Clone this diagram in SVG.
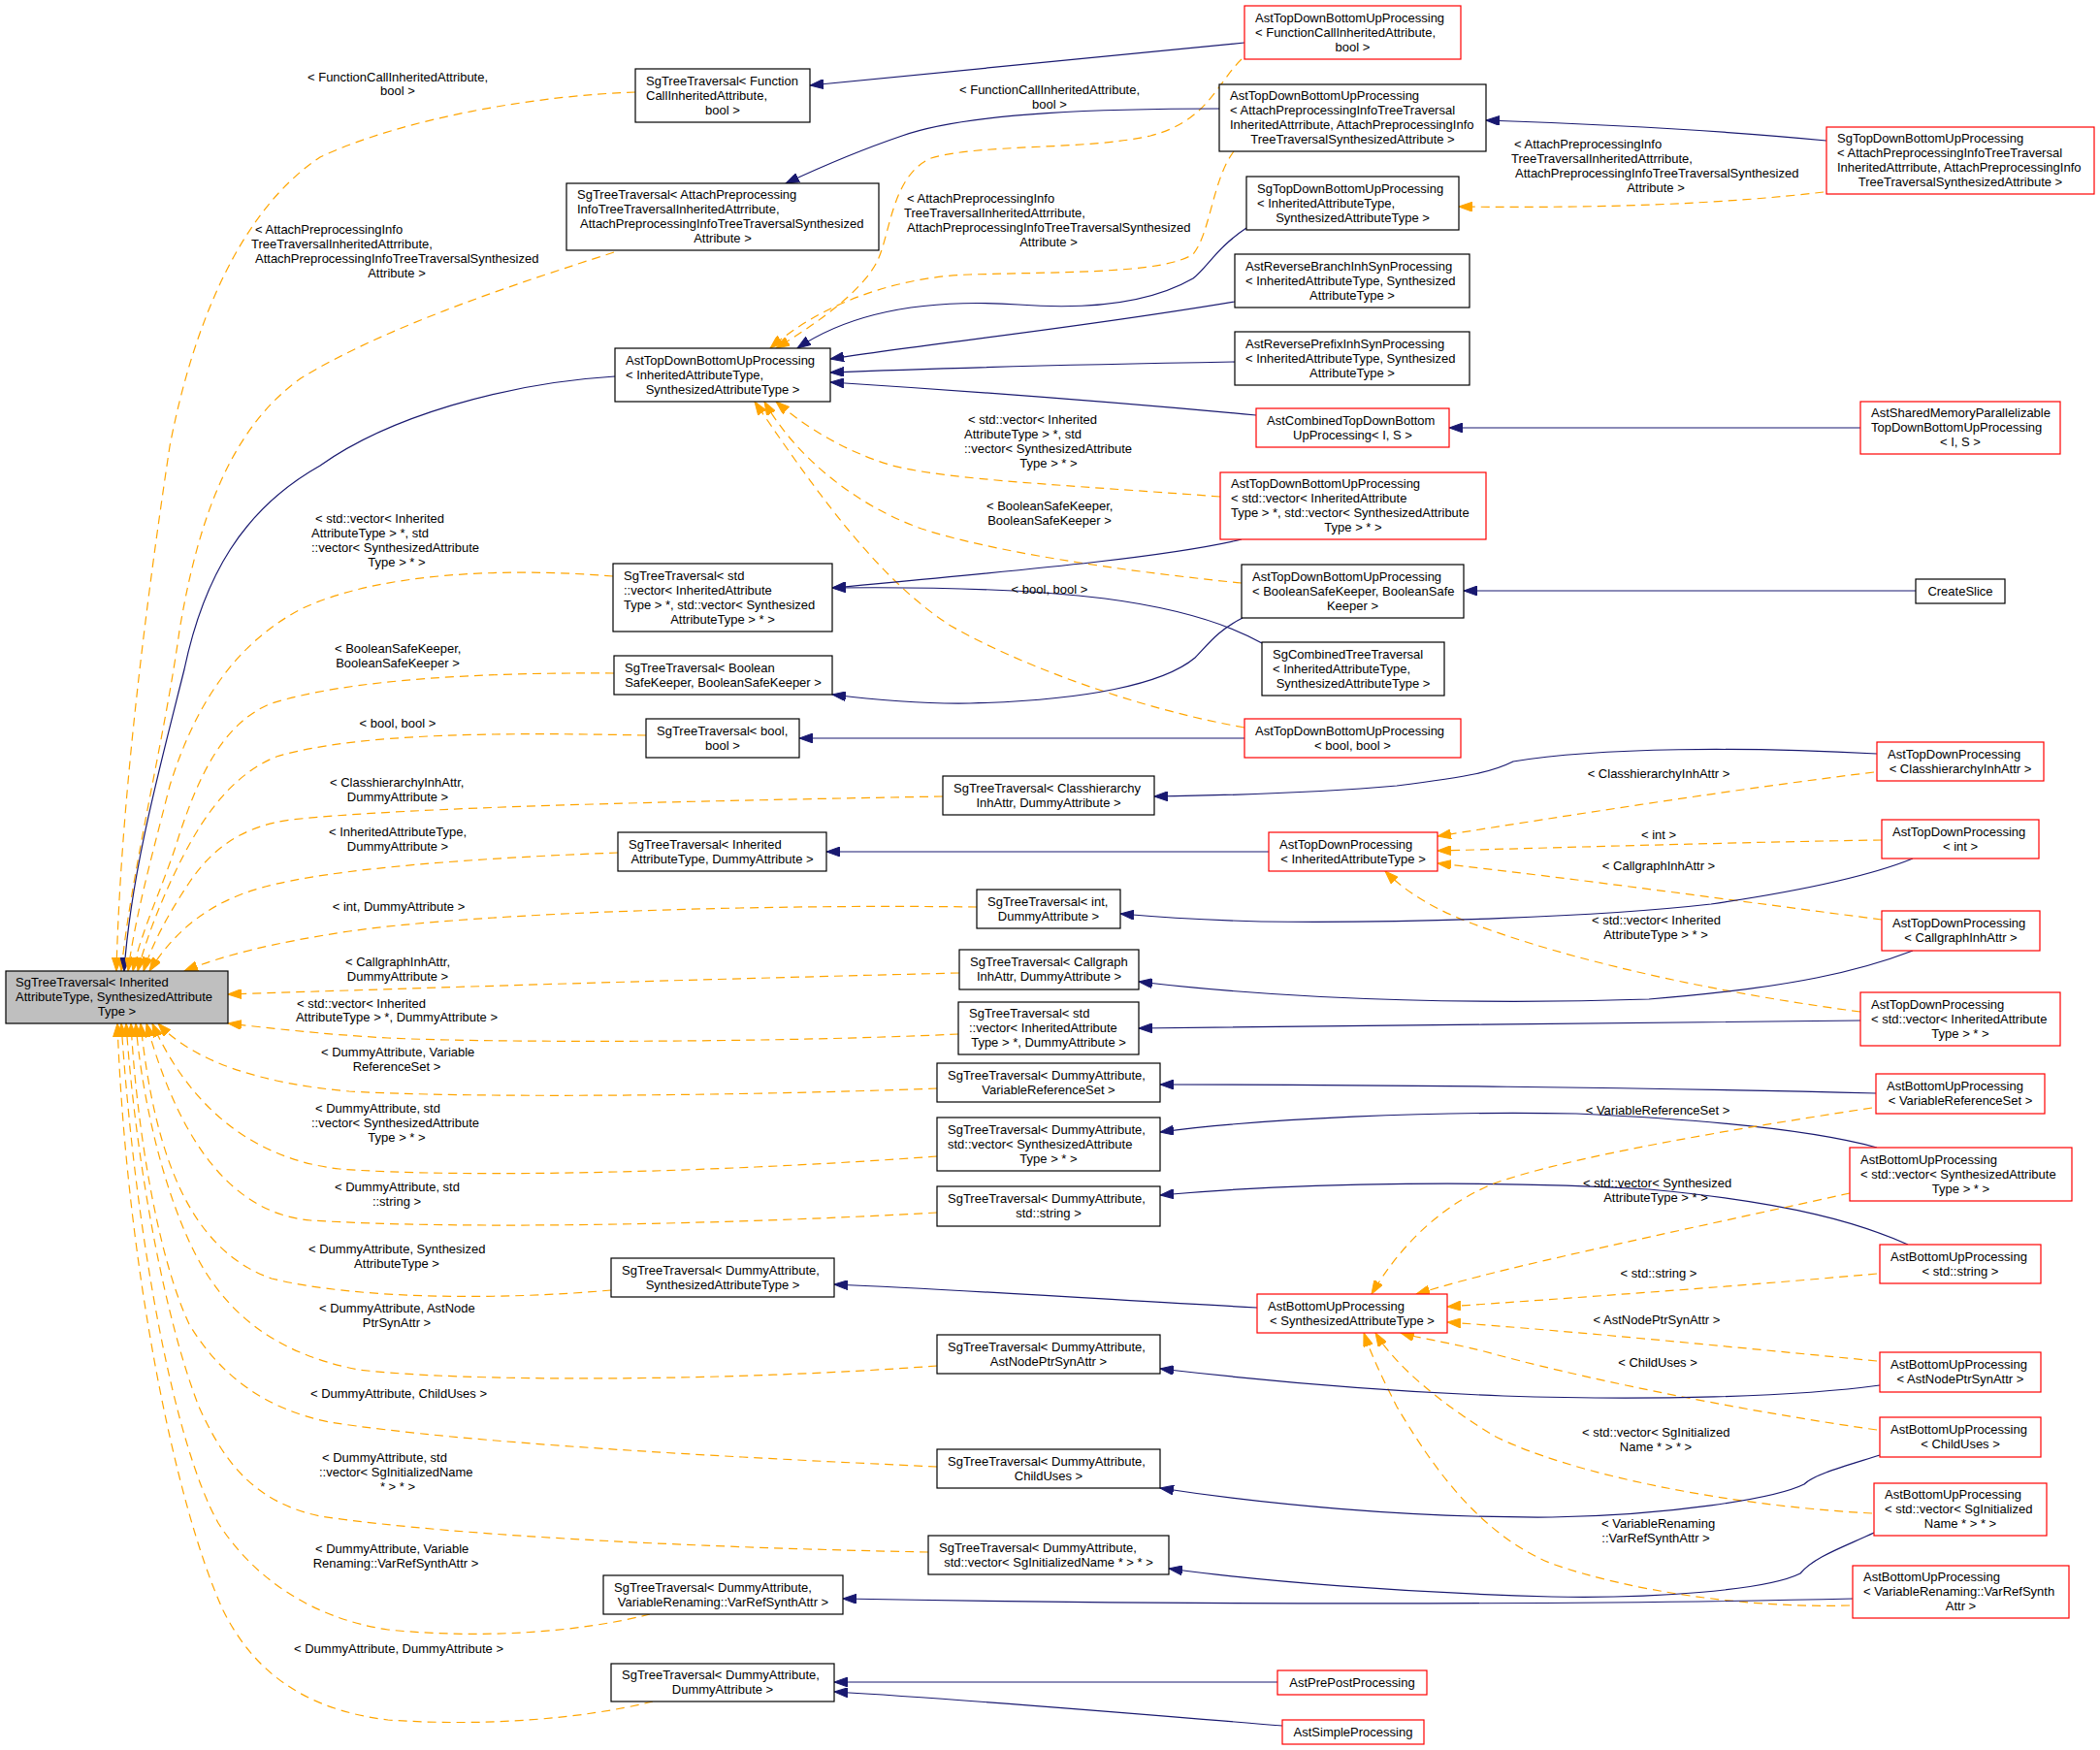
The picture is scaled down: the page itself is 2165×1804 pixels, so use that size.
<svg xmlns="http://www.w3.org/2000/svg" width="2165" height="1804" viewBox="0 0 2165 1804">
<style>
text{font-family:"Liberation Sans",Arial,Helvetica,sans-serif;font-size:13px;fill:#000}
.c{text-anchor:middle}
.n rect{fill:#fff;stroke:#000;stroke-width:1.2}
.r rect{fill:#fff;stroke:#ff0000;stroke-width:1.2}
.g rect{fill:#bfbfbf;stroke:#000;stroke-width:1.2}
.e path{fill:none;stroke-width:1.2}
.e path.b{stroke:#191970;marker-end:url(#ab)}
.e path.o{stroke:#ffa500;stroke-dasharray:9,6;marker-end:url(#ao)}
</style>
<defs>
<marker id="ab" markerWidth="15" markerHeight="10" refX="14" refY="5" orient="auto" markerUnits="userSpaceOnUse"><path d="M0,0 L14,5 L0,10 z" fill="#191970" stroke="#191970" stroke-width="1"/></marker>
<marker id="ao" markerWidth="15" markerHeight="10" refX="14" refY="5" orient="auto" markerUnits="userSpaceOnUse"><path d="M0,0 L14,5 L0,10 z" fill="#ffa500" stroke="#ffa500" stroke-width="1"/></marker>
</defs>
<rect width="2165" height="1804" fill="#fff"/>
<g id="connectors" class="e">
<path class="o" d="M655,95 C560,98 420,120 330,162 C250,215 200,330 175,460 C160,560 125,800 120,1001"/>
<path class="o" d="M633,260 C540,290 400,335 310,390 C240,440 205,530 185,650 C170,760 135,900 125,1001"/>
<path class="b" d="M634,388 C520,395 400,430 330,480 C250,525 210,595 190,690 C165,790 135,900 128,1001"/>
<path class="o" d="M632,594 C520,585 390,590 310,628 C240,665 200,730 175,810 C160,870 140,940 132,1001"/>
<path class="o" d="M633,694 C500,693 360,700 280,725 C230,745 205,800 185,860 C170,910 145,960 137,1001"/>
<path class="o" d="M666,758 C520,755 370,755 285,780 C235,800 205,850 185,890 C165,930 150,970 142,1001"/>
<path class="o" d="M972,821 C700,826 420,832 300,845 C245,852 215,880 195,910 C175,940 158,970 148,1001"/>
<path class="o" d="M637,879 C500,884 340,895 270,915 C215,930 180,960 154,1001"/>
<path class="o" d="M1007,935 C800,932 500,940 360,960 C280,972 230,985 190,1001"/>
<path class="o" d="M989,1003 C700,1010 450,1018 235,1025"/>
<path class="o" d="M988,1066 C800,1075 500,1075 400,1070 C330,1066 280,1060 235,1055"/>
<path class="o" d="M966,1122 C750,1130 480,1132 360,1125 C270,1117 200,1095 163,1055"/>
<path class="o" d="M966,1192 C750,1208 480,1215 350,1205 C260,1195 195,1140 157,1055"/>
<path class="o" d="M966,1250 C750,1262 480,1268 320,1258 C230,1250 180,1160 151,1055"/>
<path class="o" d="M630,1330 C520,1340 370,1340 280,1318 C200,1290 160,1200 145,1055"/>
<path class="o" d="M966,1408 C750,1424 480,1425 370,1412 C280,1395 230,1350 200,1290 C165,1220 145,1120 140,1055"/>
<path class="o" d="M966,1512 C750,1502 480,1488 340,1466 C270,1452 225,1415 195,1365 C160,1290 140,1150 135,1055"/>
<path class="o" d="M957,1600 C750,1596 480,1585 330,1563 C260,1548 230,1505 205,1450 C170,1360 140,1200 130,1055"/>
<path class="o" d="M670,1664 C600,1682 500,1690 400,1680 C320,1668 260,1625 225,1570 C180,1490 140,1280 125,1055"/>
<path class="o" d="M673,1754 C600,1772 500,1780 400,1773 C310,1762 260,1720 230,1660 C180,1550 130,1300 121,1055"/>
<path class="o" d="M1280,61 C1255,85 1245,125 1186,140 C1120,155 1010,148 960,163 C920,180 918,240 905,268 C890,300 840,335 800,359"/>
<path class="o" d="M1272,156 C1250,185 1248,240 1230,262 C1200,282 1100,280 1000,283 C930,285 850,310 794,359"/>
<path class="b" d="M1285,235 C1255,255 1245,275 1230,287 C1190,310 1130,320 1050,314 C960,308 880,320 822,359"/>
<path class="b" d="M1273,311 C1100,340 950,355 856,370"/>
<path class="b" d="M1273,373 C1100,376 950,380 856,384"/>
<path class="b" d="M1295,428 C1100,410 950,400 856,394"/>
<path class="o" d="M1258,512 C1100,500 980,495 920,480 C870,465 830,440 800,414"/>
<path class="o" d="M1280,601 C1150,588 1020,568 950,545 C880,520 820,470 788,414"/>
<path class="o" d="M1283,750 C1170,730 1050,685 980,645 C910,600 850,520 778,414"/>
<path class="b" d="M1283,44 L835,88"/>
<path class="b" d="M1257,112 C1150,112 1000,115 930,140 C880,157 840,175 810,189"/>
<path class="b" d="M1883,145 C1780,135 1650,128 1532,124"/>
<path class="o" d="M1880,198 C1780,210 1650,215 1504,213"/>
<path class="b" d="M1918,441 L1494,441"/>
<path class="b" d="M1280,556 C1200,575 1050,588 858,606"/>
<path class="b" d="M1301,663 C1260,640 1200,625 1139,617 C1050,606 950,605 858,606"/>
<path class="b" d="M1281,637 C1255,650 1245,665 1232,678 C1200,705 1120,722 1000,725 C940,726 890,720 858,716"/>
<path class="b" d="M1975,609 L1509,609"/>
<path class="b" d="M1283,761 L824,761"/>
<path class="b" d="M1935,777 C1800,770 1650,770 1560,785 C1540,795 1520,800 1440,810 C1350,818 1260,820 1190,821"/>
<path class="b" d="M1308,878 L852,878"/>
<path class="o" d="M1932,796 C1800,812 1620,840 1482,862"/>
<path class="o" d="M1940,866 C1800,868 1600,874 1482,877"/>
<path class="o" d="M1940,948 C1800,930 1620,905 1482,890"/>
<path class="o" d="M1918,1043 C1780,1025 1640,995 1540,960 C1480,940 1450,920 1428,898"/>
<path class="b" d="M1972,885 C1940,898 1880,915 1764,932 C1650,945 1450,952 1300,950 C1230,948 1190,945 1155,942"/>
<path class="b" d="M1972,980 C1920,1000 1850,1018 1700,1030 C1550,1035 1350,1033 1174,1012"/>
<path class="b" d="M1918,1052 C1700,1055 1400,1057 1174,1060"/>
<path class="b" d="M1934,1127 C1700,1121 1400,1118 1196,1118"/>
<path class="b" d="M1935,1183 C1880,1168 1780,1155 1625,1148 C1480,1145 1300,1153 1196,1167"/>
<path class="b" d="M1967,1283 C1920,1262 1850,1240 1700,1226 C1550,1217 1350,1218 1196,1232"/>
<path class="b" d="M1296,1348 C1150,1340 1000,1330 860,1324"/>
<path class="o" d="M1930,1142 C1780,1165 1620,1192 1540,1220 C1480,1245 1440,1290 1414,1334"/>
<path class="o" d="M1907,1230 C1780,1258 1620,1292 1540,1312 C1500,1322 1480,1328 1460,1334"/>
<path class="o" d="M1935,1313 C1780,1327 1620,1338 1492,1347"/>
<path class="o" d="M1935,1403 C1780,1388 1620,1372 1492,1363"/>
<path class="o" d="M1935,1474 C1780,1452 1620,1418 1530,1393 C1490,1383 1465,1380 1444,1374"/>
<path class="o" d="M1930,1560 C1780,1552 1620,1520 1540,1480 C1490,1450 1440,1410 1418,1374"/>
<path class="o" d="M1907,1655 C1800,1658 1680,1640 1600,1612 C1520,1580 1470,1500 1440,1450 C1425,1420 1415,1400 1406,1374"/>
<path class="b" d="M1938,1428 C1850,1440 1700,1444 1550,1439 C1420,1434 1300,1423 1196,1411"/>
<path class="b" d="M1938,1500 C1900,1512 1870,1520 1860,1530 C1830,1545 1720,1562 1600,1564 C1450,1565 1300,1550 1196,1534"/>
<path class="b" d="M1932,1580 C1900,1595 1870,1605 1856,1622 C1820,1640 1700,1648 1600,1646 C1450,1642 1300,1630 1205,1617"/>
<path class="b" d="M1910,1648 C1700,1653 1300,1656 869,1648"/>
<path class="b" d="M1317,1734 L860,1734"/>
<path class="b" d="M1322,1779 C1150,1765 1000,1752 860,1744"/>
<g id="edge-labels">
<text x="317" y="83.5">&lt; FunctionCallInheritedAttribute,</text><text class="c" x="410" y="98">bool &gt;</text>
<text x="263" y="241">&lt; AttachPreprocessingInfo</text><text x="259" y="256">TreeTraversalInheritedAttrribute,</text><text x="263" y="271">AttachPreprocessingInfoTreeTraversalSynthesized</text><text class="c" x="409" y="286">Attribute &gt;</text>
<text x="325" y="539">&lt; std::vector&lt; Inherited</text><text x="321" y="554">AttributeType &gt; *, std</text><text x="321" y="569">::vector&lt; SynthesizedAttribute</text><text class="c" x="409" y="584">Type &gt; * &gt;</text>
<text x="345" y="673">&lt; BooleanSafeKeeper,</text><text class="c" x="410" y="688">BooleanSafeKeeper &gt;</text>
<text class="c" x="410" y="749.5">&lt; bool, bool &gt;</text>
<text x="340" y="811">&lt; ClasshierarchyInhAttr,</text><text class="c" x="410" y="826">DummyAttribute &gt;</text>
<text x="339" y="862">&lt; InheritedAttributeType,</text><text class="c" x="410" y="877">DummyAttribute &gt;</text>
<text class="c" x="411" y="938.5">&lt; int, DummyAttribute &gt;</text>
<text x="356" y="995.5">&lt; CallgraphInhAttr,</text><text class="c" x="410" y="1010.5">DummyAttribute &gt;</text>
<text x="306" y="1038.5">&lt; std::vector&lt; Inherited</text><text class="c" x="409" y="1052.5">AttributeType &gt; *, DummyAttribute &gt;</text>
<text x="331" y="1088.5">&lt; DummyAttribute, Variable</text><text class="c" x="409" y="1103.5">ReferenceSet &gt;</text>
<text x="325" y="1146.5">&lt; DummyAttribute, std</text><text x="321" y="1161.5">::vector&lt; SynthesizedAttribute</text><text class="c" x="409" y="1176.5">Type &gt; * &gt;</text>
<text x="345" y="1227.5">&lt; DummyAttribute, std</text><text class="c" x="409" y="1242.5">::string &gt;</text>
<text x="318" y="1291.5">&lt; DummyAttribute, Synthesized</text><text class="c" x="409" y="1306.5">AttributeType &gt;</text>
<text x="329" y="1352.5">&lt; DummyAttribute, AstNode</text><text class="c" x="409" y="1367.5">PtrSynAttr &gt;</text>
<text class="c" x="411" y="1440.5">&lt; DummyAttribute, ChildUses &gt;</text>
<text x="332" y="1507">&lt; DummyAttribute, std</text><text x="329" y="1522">::vector&lt; SgInitializedName</text><text class="c" x="410" y="1537">* &gt; * &gt;</text>
<text x="325" y="1600.5">&lt; DummyAttribute, Variable</text><text class="c" x="408" y="1615.5">Renaming::VarRefSynthAttr &gt;</text>
<text class="c" x="411" y="1703.5">&lt; DummyAttribute, DummyAttribute &gt;</text>
<text x="989" y="96.5">&lt; FunctionCallInheritedAttribute,</text><text class="c" x="1082" y="111.5">bool &gt;</text>
<text x="935" y="208.5">&lt; AttachPreprocessingInfo</text><text x="932" y="223.5">TreeTraversalInheritedAttrribute,</text><text x="935" y="238.5">AttachPreprocessingInfoTreeTraversalSynthesized</text><text class="c" x="1081" y="253.5">Attribute &gt;</text>
<text x="998" y="436.5">&lt; std::vector&lt; Inherited</text><text x="994" y="451.5">AttributeType &gt; *, std</text><text x="994" y="466.5">::vector&lt; SynthesizedAttribute</text><text class="c" x="1081" y="481.5">Type &gt; * &gt;</text>
<text x="1017" y="525.5">&lt; BooleanSafeKeeper,</text><text class="c" x="1082" y="540.5">BooleanSafeKeeper &gt;</text>
<text class="c" x="1082" y="611.5">&lt; bool, bool &gt;</text>
<text x="1561" y="152.5">&lt; AttachPreprocessingInfo</text><text x="1558" y="167.5">TreeTraversalInheritedAttrribute,</text><text x="1562" y="182.5">AttachPreprocessingInfoTreeTraversalSynthesized</text><text class="c" x="1707" y="197.5">Attribute &gt;</text>
<text class="c" x="1710" y="801.5">&lt; ClasshierarchyInhAttr &gt;</text>
<text class="c" x="1710" y="864.5">&lt; int &gt;</text>
<text class="c" x="1710" y="896.5">&lt; CallgraphInhAttr &gt;</text>
<text x="1641" y="952.5">&lt; std::vector&lt; Inherited</text><text class="c" x="1707" y="967.5">AttributeType &gt; * &gt;</text>
<text class="c" x="1709" y="1148.5">&lt; VariableReferenceSet &gt;</text>
<text x="1632" y="1223.5">&lt; std::vector&lt; Synthesized</text><text class="c" x="1707" y="1238.5">AttributeType &gt; * &gt;</text>
<text class="c" x="1710" y="1316.5">&lt; std::string &gt;</text>
<text class="c" x="1708" y="1364.5">&lt; AstNodePtrSynAttr &gt;</text>
<text class="c" x="1709" y="1408.5">&lt; ChildUses &gt;</text>
<text x="1631" y="1480.5">&lt; std::vector&lt; SgInitialized</text><text class="c" x="1707" y="1495.5">Name * &gt; * &gt;</text>
<text x="1651" y="1575">&lt; VariableRenaming</text><text class="c" x="1707" y="1590">::VarRefSynthAttr &gt;</text>
</g>
</g>
<g id="root" class="g"><rect x="6" y="1001" width="229" height="54"/><text x="16" y="1017">SgTreeTraversal&lt; Inherited</text><text x="16" y="1032">AttributeType, SynthesizedAttribute</text><text class="c" x="120.5" y="1047">Type &gt;</text></g>
<g id="A1" class="n"><rect x="655" y="71" width="180" height="55"/><text x="666" y="87.5">SgTreeTraversal&lt; Function</text><text x="666" y="102.5">CallInheritedAttribute,</text><text class="c" x="745" y="117.5">bool &gt;</text></g>
<g id="A2" class="n"><rect x="584" y="189" width="322" height="69"/><text x="595" y="205">SgTreeTraversal&lt; AttachPreprocessing</text><text x="595" y="220">InfoTreeTraversalInheritedAttrribute,</text><text x="598" y="235">AttachPreprocessingInfoTreeTraversalSynthesized</text><text class="c" x="745" y="250">Attribute &gt;</text></g>
<g id="A3" class="n"><rect x="634" y="359" width="222" height="55"/><text x="645" y="375.5">AstTopDownBottomUpProcessing</text><text x="645" y="390.5">&lt; InheritedAttributeType,</text><text class="c" x="745" y="405.5">SynthesizedAttributeType &gt;</text></g>
<g id="B1" class="r"><rect x="1283" y="6" width="223" height="55"/><text x="1294" y="22.5">AstTopDownBottomUpProcessing</text><text x="1294" y="37.5">&lt; FunctionCallInheritedAttribute,</text><text class="c" x="1394.5" y="52.5">bool &gt;</text></g>
<g id="B2" class="n"><rect x="1257" y="87" width="275" height="69"/><text x="1268" y="103">AstTopDownBottomUpProcessing</text><text x="1268" y="118">&lt; AttachPreprocessingInfoTreeTraversal</text><text x="1268" y="133">InheritedAttrribute, AttachPreprocessingInfo</text><text class="c" x="1394.5" y="148">TreeTraversalSynthesizedAttribute &gt;</text></g>
<g id="B3" class="n"><rect x="1285" y="182" width="219" height="55"/><text x="1296" y="198.5">SgTopDownBottomUpProcessing</text><text x="1296" y="213.5">&lt; InheritedAttributeType,</text><text class="c" x="1394.5" y="228.5">SynthesizedAttributeType &gt;</text></g>
<g id="B4" class="n"><rect x="1273" y="262" width="242" height="55"/><text x="1284" y="278.5">AstReverseBranchInhSynProcessing</text><text x="1284" y="293.5">&lt; InheritedAttributeType, Synthesized</text><text class="c" x="1394" y="308.5">AttributeType &gt;</text></g>
<g id="B5" class="n"><rect x="1273" y="342" width="242" height="55"/><text x="1284" y="358.5">AstReversePrefixInhSynProcessing</text><text x="1284" y="373.5">&lt; InheritedAttributeType, Synthesized</text><text class="c" x="1394" y="388.5">AttributeType &gt;</text></g>
<g id="B6" class="r"><rect x="1295" y="421" width="199" height="40"/><text x="1306" y="437.5">AstCombinedTopDownBottom</text><text class="c" x="1394.5" y="452.5">UpProcessing&lt; I, S &gt;</text></g>
<g id="B7" class="r"><rect x="1883" y="131" width="276" height="69"/><text x="1894" y="147">SgTopDownBottomUpProcessing</text><text x="1894" y="162">&lt; AttachPreprocessingInfoTreeTraversal</text><text x="1894" y="177">InheritedAttrribute, AttachPreprocessingInfo</text><text class="c" x="2021" y="192">TreeTraversalSynthesizedAttribute &gt;</text></g>
<g id="B8" class="r"><rect x="1918" y="414" width="206" height="54"/><text x="1929" y="430">AstSharedMemoryParallelizable</text><text x="1929" y="445">TopDownBottomUpProcessing</text><text class="c" x="2021" y="460">&lt; I, S &gt;</text></g>
<g id="C1" class="n"><rect x="632" y="581" width="226" height="70"/><text x="643" y="597.5">SgTreeTraversal&lt; std</text><text x="643" y="612.5">::vector&lt; InheritedAttribute</text><text x="643" y="627.5">Type &gt; *, std::vector&lt; Synthesized</text><text class="c" x="745" y="642.5">AttributeType &gt; * &gt;</text></g>
<g id="C2" class="n"><rect x="633" y="676" width="225" height="40"/><text x="644" y="692.5">SgTreeTraversal&lt; Boolean</text><text class="c" x="745.5" y="707.5">SafeKeeper, BooleanSafeKeeper &gt;</text></g>
<g id="C3" class="n"><rect x="666" y="741" width="158" height="40"/><text x="677" y="757.5">SgTreeTraversal&lt; bool,</text><text class="c" x="745" y="772.5">bool &gt;</text></g>
<g id="C4" class="n"><rect x="637" y="858" width="215" height="40"/><text x="648" y="874.5">SgTreeTraversal&lt; Inherited</text><text class="c" x="744.5" y="889.5">AttributeType, DummyAttribute &gt;</text></g>
<g id="C5" class="r"><rect x="1258" y="487" width="274" height="69"/><text x="1269" y="503">AstTopDownBottomUpProcessing</text><text x="1269" y="518">&lt; std::vector&lt; InheritedAttribute</text><text x="1269" y="533">Type &gt; *, std::vector&lt; SynthesizedAttribute</text><text class="c" x="1395" y="548">Type &gt; * &gt;</text></g>
<g id="C6" class="n"><rect x="1280" y="582" width="229" height="55"/><text x="1291" y="598.5">AstTopDownBottomUpProcessing</text><text x="1291" y="613.5">&lt; BooleanSafeKeeper, BooleanSafe</text><text class="c" x="1394.5" y="628.5">Keeper &gt;</text></g>
<g id="C7" class="n"><rect x="1301" y="662" width="188" height="55"/><text x="1312" y="678.5">SgCombinedTreeTraversal</text><text x="1312" y="693.5">&lt; InheritedAttributeType,</text><text class="c" x="1395" y="708.5">SynthesizedAttributeType &gt;</text></g>
<g id="C8" class="r"><rect x="1283" y="741" width="223" height="40"/><text x="1294" y="757.5">AstTopDownBottomUpProcessing</text><text class="c" x="1394.5" y="772.5">&lt; bool, bool &gt;</text></g>
<g id="C9" class="n"><rect x="972" y="800" width="218" height="40"/><text x="983" y="816.5">SgTreeTraversal&lt; Classhierarchy</text><text class="c" x="1081" y="831.5">InhAttr, DummyAttribute &gt;</text></g>
<g id="C10" class="r"><rect x="1308" y="858" width="174" height="40"/><text x="1319" y="874.5">AstTopDownProcessing</text><text class="c" x="1395" y="889.5">&lt; InheritedAttributeType &gt;</text></g>
<g id="D1" class="n"><rect x="1975" y="597" width="92" height="25"/><text class="c" x="2021" y="613.5">CreateSlice</text></g>
<g id="D2" class="r"><rect x="1935" y="765" width="172" height="40"/><text x="1946" y="781.5">AstTopDownProcessing</text><text class="c" x="2021" y="796.5">&lt; ClasshierarchyInhAttr &gt;</text></g>
<g id="D3" class="r"><rect x="1940" y="845" width="162" height="40"/><text x="1951" y="861.5">AstTopDownProcessing</text><text class="c" x="2021" y="876.5">&lt; int &gt;</text></g>
<g id="E1" class="n"><rect x="630" y="1297" width="230" height="40"/><text x="641" y="1313.5">SgTreeTraversal&lt; DummyAttribute,</text><text class="c" x="745" y="1328.5">SynthesizedAttributeType &gt;</text></g>
<g id="E2" class="n"><rect x="1007" y="917" width="148" height="40"/><text x="1018" y="933.5">SgTreeTraversal&lt; int,</text><text class="c" x="1081" y="948.5">DummyAttribute &gt;</text></g>
<g id="E3" class="n"><rect x="989" y="979" width="185" height="41"/><text x="1000" y="996">SgTreeTraversal&lt; Callgraph</text><text class="c" x="1081.5" y="1011">InhAttr, DummyAttribute &gt;</text></g>
<g id="E4" class="n"><rect x="988" y="1033" width="186" height="54"/><text x="999" y="1049">SgTreeTraversal&lt; std</text><text x="999" y="1064">::vector&lt; InheritedAttribute</text><text class="c" x="1081" y="1079">Type &gt; *, DummyAttribute &gt;</text></g>
<g id="E5" class="n"><rect x="966" y="1096" width="230" height="40"/><text x="977" y="1112.5">SgTreeTraversal&lt; DummyAttribute,</text><text class="c" x="1081" y="1127.5">VariableReferenceSet &gt;</text></g>
<g id="E6" class="n"><rect x="966" y="1152" width="230" height="55"/><text x="977" y="1168.5">SgTreeTraversal&lt; DummyAttribute,</text><text x="977" y="1183.5">std::vector&lt; SynthesizedAttribute</text><text class="c" x="1081" y="1198.5">Type &gt; * &gt;</text></g>
<g id="E7" class="n"><rect x="966" y="1223" width="230" height="41"/><text x="977" y="1240">SgTreeTraversal&lt; DummyAttribute,</text><text class="c" x="1081" y="1255">std::string &gt;</text></g>
<g id="F1" class="r"><rect x="1296" y="1334" width="196" height="40"/><text x="1307" y="1350.5">AstBottomUpProcessing</text><text class="c" x="1394" y="1365.5">&lt; SynthesizedAttributeType &gt;</text></g>
<g id="G1" class="r"><rect x="1940" y="939" width="163" height="41"/><text x="1951" y="956">AstTopDownProcessing</text><text class="c" x="2021.5" y="971">&lt; CallgraphInhAttr &gt;</text></g>
<g id="G2" class="r"><rect x="1918" y="1023" width="206" height="55"/><text x="1929" y="1039.5">AstTopDownProcessing</text><text x="1929" y="1054.5">&lt; std::vector&lt; InheritedAttribute</text><text class="c" x="2021" y="1069.5">Type &gt; * &gt;</text></g>
<g id="G3" class="r"><rect x="1934" y="1107" width="174" height="41"/><text x="1945" y="1124">AstBottomUpProcessing</text><text class="c" x="2021" y="1139">&lt; VariableReferenceSet &gt;</text></g>
<g id="G4" class="r"><rect x="1907" y="1183" width="229" height="55"/><text x="1918" y="1199.5">AstBottomUpProcessing</text><text x="1918" y="1214.5">&lt; std::vector&lt; SynthesizedAttribute</text><text class="c" x="2021.5" y="1229.5">Type &gt; * &gt;</text></g>
<g id="G5" class="r"><rect x="1938" y="1283" width="166" height="40"/><text x="1949" y="1299.5">AstBottomUpProcessing</text><text class="c" x="2021" y="1314.5">&lt; std::string &gt;</text></g>
<g id="H1" class="r"><rect x="1938" y="1394" width="166" height="41"/><text x="1949" y="1411">AstBottomUpProcessing</text><text class="c" x="2021" y="1426">&lt; AstNodePtrSynAttr &gt;</text></g>
<g id="H2" class="r"><rect x="1938" y="1461" width="166" height="41"/><text x="1949" y="1478">AstBottomUpProcessing</text><text class="c" x="2021" y="1493">&lt; ChildUses &gt;</text></g>
<g id="H3" class="r"><rect x="1932" y="1529" width="178" height="54"/><text x="1943" y="1545">AstBottomUpProcessing</text><text x="1943" y="1560">&lt; std::vector&lt; SgInitialized</text><text class="c" x="2021" y="1575">Name * &gt; * &gt;</text></g>
<g id="H4" class="r"><rect x="1910" y="1614" width="223" height="54"/><text x="1921" y="1630">AstBottomUpProcessing</text><text x="1921" y="1645">&lt; VariableRenaming::VarRefSynth</text><text class="c" x="2021.5" y="1660">Attr &gt;</text></g>
<g id="I1" class="n"><rect x="966" y="1376" width="230" height="40"/><text x="977" y="1392.5">SgTreeTraversal&lt; DummyAttribute,</text><text class="c" x="1081" y="1407.5">AstNodePtrSynAttr &gt;</text></g>
<g id="I2" class="n"><rect x="966" y="1494" width="230" height="40"/><text x="977" y="1510.5">SgTreeTraversal&lt; DummyAttribute,</text><text class="c" x="1081" y="1525.5">ChildUses &gt;</text></g>
<g id="I3" class="n"><rect x="957" y="1583" width="248" height="40"/><text x="968" y="1599.5">SgTreeTraversal&lt; DummyAttribute,</text><text class="c" x="1081" y="1614.5">std::vector&lt; SgInitializedName * &gt; * &gt;</text></g>
<g id="I4" class="n"><rect x="622" y="1624" width="247" height="40"/><text x="633" y="1640.5">SgTreeTraversal&lt; DummyAttribute,</text><text class="c" x="745.5" y="1655.5">VariableRenaming::VarRefSynthAttr &gt;</text></g>
<g id="I5" class="n"><rect x="630" y="1715" width="230" height="39"/><text x="641" y="1731">SgTreeTraversal&lt; DummyAttribute,</text><text class="c" x="745" y="1746">DummyAttribute &gt;</text></g>
<g id="J1" class="r"><rect x="1317" y="1722" width="154" height="25"/><text class="c" x="1394" y="1738.5">AstPrePostProcessing</text></g>
<g id="J2" class="r"><rect x="1322" y="1773" width="146" height="25"/><text class="c" x="1395" y="1789.5">AstSimpleProcessing</text></g>
</svg>
